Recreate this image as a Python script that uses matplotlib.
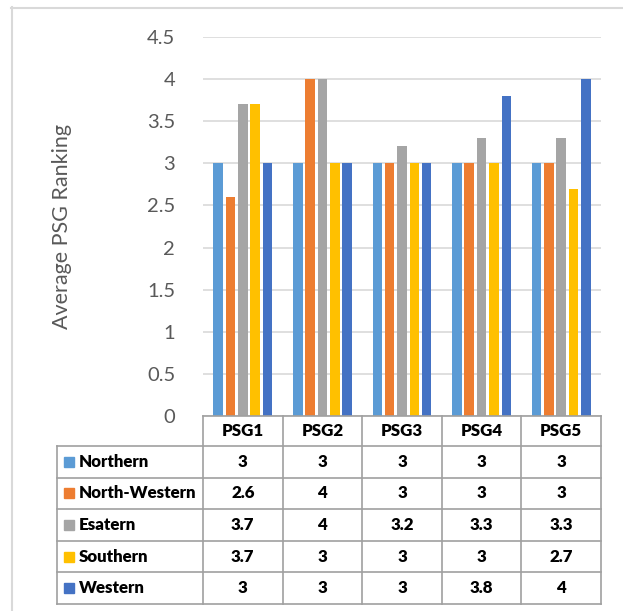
import numpy as np
import matplotlib.pyplot as plt
from matplotlib.patches import Rectangle

plt.rcParams['font.family'] = ['Lato', 'DejaVu Sans']

# data
groups = ['PSG1', 'PSG2', 'PSG3', 'PSG4', 'PSG5']
regions = ['Northern', 'North-Western', 'Esatern', 'Southern', 'Western']
northern = [3, 3, 3, 3, 3]
north_western = [2.6, 4, 3, 3, 3]
eastern = [3.7, 4, 3.2, 3.3, 3.3]
southern = [3.7, 3, 3, 3, 2.7]
western = [3, 3, 3, 3.8, 4]
colors = ['#5B9BD5', '#ED7D31', '#A5A5A5', '#FFC000', '#4472C4']
series = [northern, north_western, eastern, southern, western]

W, H = 623, 611
fig = plt.figure(figsize=(W / 100, H / 100), dpi=100)


def px(x0, y0, x1, y1):
    # pixel box -> figure fraction rect
    return [x0 / W, 1 - y1 / H, (x1 - x0) / W, (y1 - y0) / H]


# bar chart
ax = fig.add_axes(px(203, 37, 601, 416))
x = np.arange(len(groups))
step = 0.155
for i, (vals, c, name) in enumerate(zip(series, colors, regions)):
    ax.bar(x + (i - 2) * step, vals, width=0.12, color=c, label=name, zorder=3)
ax.set_xlim(-0.5, len(groups) - 0.5)
ax.set_ylim(0, 4.5)
yt = np.arange(0, 4.51, 0.5)
ax.set_yticks(yt)
ax.set_yticklabels([f'{v:g}' for v in yt])
ax.grid(axis='y', color='#d9d9d9', lw=1.2, zorder=0)
ax.set_xticks([])
for s in ax.spines.values():
    s.set_visible(False)
ax.tick_params(axis='y', length=0, pad=20, labelsize=14.5, labelcolor='#595959')
ax.set_ylabel('Average PSG Ranking', fontsize=15.5, color='#595959')
ax.yaxis.set_label_coords(-0.33, 0.5)

# data table underneath, drawn in pixel coordinates
tab = fig.add_axes([0, 0, 1, 1], zorder=5)
tab.set_xlim(0, W)
tab.set_ylim(H, 0)
tab.axis('off')
tab.patch.set_alpha(0)

col_x = np.linspace(203, 601, len(groups) + 1)
lab_x0 = 57
head_y0, head_y1 = 416, 446
row_y = np.linspace(head_y1, 604, len(regions) + 1)
lc, lw = '#a0a0a0', 1.2

tab.plot([col_x[0], col_x[-1]], [head_y0, head_y0], color=lc, lw=lw)
for y in row_y:
    tab.plot([lab_x0, col_x[-1]], [y, y], color=lc, lw=lw)
tab.plot([lab_x0, lab_x0], [row_y[0], row_y[-1]], color=lc, lw=lw)
for cx in col_x:
    tab.plot([cx, cx], [head_y0, row_y[-1]], color=lc, lw=lw)

for j, g in enumerate(groups):
    tab.text((col_x[j] + col_x[j + 1]) / 2, (head_y0 + head_y1) / 2, g,
             ha='center', va='center', fontsize=12.2, fontweight='heavy')

for i, (name, c, vals) in enumerate(zip(regions, colors, series)):
    yc = (row_y[i] + row_y[i + 1]) / 2
    tab.add_patch(Rectangle((64, yc - 5), 10, 10, color=c))
    tab.text(79, yc, name, ha='left', va='center', fontsize=12.2,
             fontweight='heavy')
    for j, v in enumerate(vals):
        tab.text((col_x[j] + col_x[j + 1]) / 2, yc, f'{v:g}',
                 ha='center', va='center', fontsize=12.2, fontweight='heavy')

# chart frame and caption above it (mostly off the top edge)
tab.plot([11.5, 11.5], [7, H], color='#d9d9d9', lw=1.5)
tab.plot([11, W], [7.5, 7.5], color='#d9d9d9', lw=1.5)
tab.text(13, -2.5, 'Figure 3: Regional Average PSG Ranking', fontsize=14,
         fontweight='bold', va='baseline', ha='left', color='#222222')

fig.savefig('out.png', dpi=100)
